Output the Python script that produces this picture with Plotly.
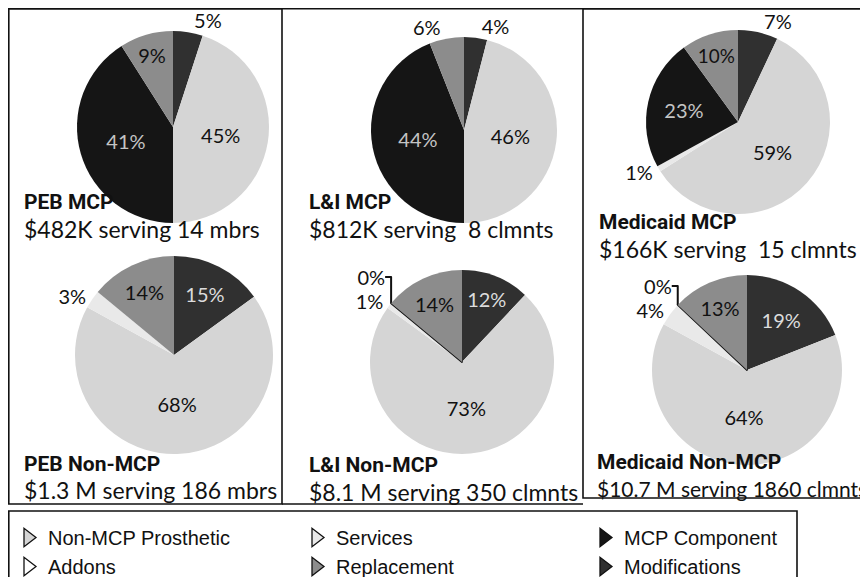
import plotly.graph_objects as go

WIN_W, WIN_H = 868, 577
# the page body adds an 8 px margin; the figure is sized to fit the window exactly,
# and all positions below are given in window pixels
OFF = 8
W, H = WIN_W - OFF, WIN_H - OFF

# ---------------- data ----------------
pie_order = ["Modifications", "Non-MCP Prosthetic", "Services", "MCP Component", "Addons", "Replacement"]
peb_mcp = [5, 45, None, 41, None, 9]
li_mcp = [4, 46, None, 44, None, 6]
medicaid_mcp = [7, 59, 1, 23, None, 10]
peb_non_mcp = [15, 68, 3, None, None, 14]
li_non_mcp = [12, 73, 1, None, 0, 14]
medicaid_non_mcp = [19, 64, 4, None, 0, 13]

panel_names = ["PEB MCP", "L&I MCP", "Medicaid MCP",
               "PEB Non-MCP", "L&I Non-MCP", "Medicaid Non-MCP"]
panel_notes = ["$482K serving 14 mbrs", "$812K serving  8 clmnts", "$166K serving  15 clmnts",
               "$1.3 M serving 186 mbrs", "$8.1 M serving 350 clmnts", "$10.7 M serving 1860 clmnts"]
legend_order = ["Non-MCP Prosthetic", "Services", "MCP Component", "Addons", "Replacement", "Modifications"]

# ---------------- styles ----------------
fill = {"Modifications": "#303030", "Non-MCP Prosthetic": "#d5d5d5", "Services": "#e9e9e9",
        "MCP Component": "#151515", "Addons": "#ffffff", "Replacement": "#8c8c8c"}
inside_txt = {"Modifications": "#dcdcdc", "MCP Component": "#c4c4c4"}

series = [peb_mcp, li_mcp, medicaid_mcp, peb_non_mcp, li_non_mcp, medicaid_non_mcp]
# pie centre (px) and radius (px), window coordinates
geo = [(173, 127, 96), (464, 130, 93), (738, 122, 92),
       (174, 355, 99), (462, 362, 92), (747, 370, 95)]
# caption positions (x, y of name line, y of note line) and note font size
cap = [(22, 202, 229), (307, 202, 229), (597, 222, 249),
       (22, 464, 490), (307, 465, 492), (595, 462, 488)]
note_size = [23, 23, 23, 23, 23, 21]


def px(x):
    return (x - OFF) / W


def py(y):
    return 1 - (y - OFF) / H


fig = go.Figure()

for vals, (cx, cy, r) in zip(series, geo):
    fig.add_trace(go.Pie(
        labels=pie_order, values=vals, sort=False, direction="clockwise", rotation=0,
        domain=dict(x=[px(cx - r), px(cx + r)], y=[py(cy + r), py(cy - r)]),
        marker=dict(colors=[fill[c] for c in pie_order],
                    line=dict(color="#111111",
                              width=[1.8 if v == 0 else 0 for v in vals])),
        texttemplate="%{value}%",
        textposition=["outside" if (v is not None and v < 8) else "inside" for v in vals],
        insidetextorientation="horizontal",
        insidetextfont=dict(family="Lato, Carlito, sans-serif", size=20,
                            color=[inside_txt.get(c, "#111111") for c in pie_order]),
        outsidetextfont=dict(family="Lato, Carlito, sans-serif", size=20, color="#111111"),
        showlegend=False, hoverinfo="skip",
    ))

for name in legend_order:
    fig.add_trace(go.Scatter(
        x=[None], y=[None], mode="markers", name=name,
        marker=dict(symbol="triangle-right", size=16, color=fill[name],
                    line=dict(color="#111111", width=1.3)),
    ))

annotations = []
for (x, y1, y2), nm, note, fs in zip(cap, panel_names, panel_notes, note_size):
    annotations.append(dict(x=px(x), y=py(y1), xref="paper", yref="paper", xanchor="left",
                            yanchor="middle", showarrow=False, text="<b>" + nm + "</b>",
                            font=dict(family="Roboto, Lato, sans-serif", size=21, color="#111111")))
    annotations.append(dict(x=px(x), y=py(y2), xref="paper", yref="paper", xanchor="left",
                            yanchor="middle", showarrow=False, text=note.replace("  ", "&nbsp; "),
                            font=dict(family="Lato, Carlito, sans-serif", size=fs, color="#111111")))

line = dict(color="#111111", width=1.6)
shapes = [
    dict(type="line", x0=px(8), x1=px(880), y0=py(8.8), y1=py(8.8), xref="paper", yref="paper", line=line),
    dict(type="rect", x0=px(8.8), x1=px(282), y0=py(8.8), y1=py(504), xref="paper", yref="paper", line=line),
    dict(type="line", x0=px(282), x1=px(583), y0=py(504), y1=py(504), xref="paper", yref="paper", line=line),
    dict(type="rect", x0=px(583), x1=px(890), y0=py(8.8), y1=py(498), xref="paper", yref="paper", line=line),
    dict(type="rect", x0=px(8.8), x1=px(797), y0=py(511), y1=py(600), xref="paper", yref="paper", line=line),
]

fig.update_layout(
    width=W, height=H, margin=dict(l=0, r=0, t=0, b=0, autoexpand=False),
    paper_bgcolor="white", plot_bgcolor="white",
    xaxis=dict(visible=False), yaxis=dict(visible=False),
    annotations=annotations, shapes=shapes,
    legend=dict(orientation="h", x=0, y=py(518), xanchor="left", yanchor="top",
                entrywidth=243, entrywidthmode="pixels", traceorder="normal",
                font=dict(family="Liberation Sans, Arial, sans-serif", size=20, color="#111111"),
                bgcolor="rgba(0,0,0,0)", itemclick=False, itemdoubleclick=False),
)

fig.write_html("out.html")
